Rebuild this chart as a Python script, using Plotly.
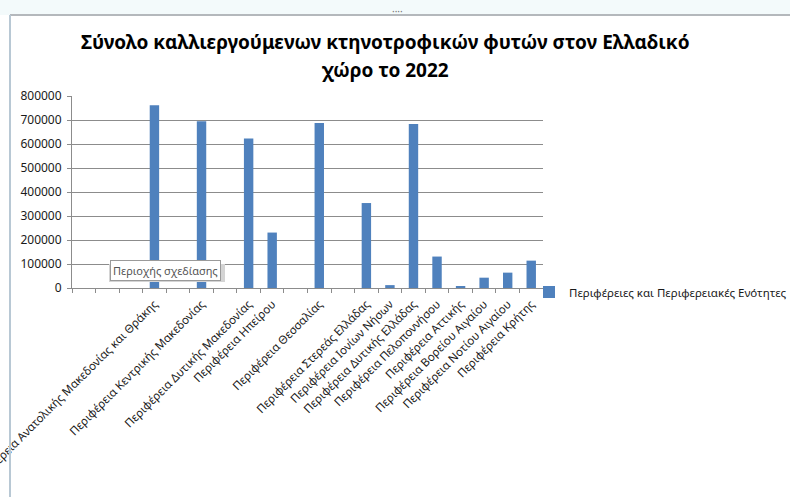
import plotly.graph_objects as go

# Regions of Greece (blank slots keep the spacing of the source table)
categories = [
    "", "", "",
    "Περιφέρεια Ανατολικής Μακεδονίας και Θράκης",
    "",
    "Περιφέρεια Κεντρικής Μακεδονίας",
    "",
    "Περιφέρεια Δυτικής Μακεδονίας",
    "Περιφέρεια Ηπείρου",
    "",
    "Περιφέρεια Θεσσαλίας",
    "",
    "Περιφέρεια Στερεάς Ελλάδας",
    "Περιφέρεια Ιονίων Νήσων",
    "Περιφέρεια Δυτικής Ελλάδας",
    "Περιφέρεια Πελοποννήσου",
    "Περιφέρεια Αττικής",
    "Περιφέρεια Βορείου Αιγαίου",
    "Περιφέρεια Νοτίου Αιγαίου",
    "Περιφέρεια Κρήτης",
]

# Cultivated fodder plants, 2022
values = [
    None, None, None,
    761000,
    None,
    695000,
    None,
    623000,
    231000,
    None,
    687000,
    None,
    354000,
    12000,
    683000,
    131000,
    8000,
    43000,
    64000,
    114000,
]

series_name = "Περιφέρειες και Περιφερειακές Ενότητες"
title_lines = ["Σύνολο καλλιεργούμενων κτηνοτροφικών φυτών στον Ελλαδικό",
               "χώρο το 2022"]
y_ticks = [0, 100000, 200000, 300000, 400000, 500000, 600000, 700000, 800000]

positions = list(range(len(categories)))

# Plot area in pixels
W, H = 790, 497
L, R, T, B = 72, 543, 96, 288


def px(x):
    return (x - L) / (R - L)


def py(y):
    return (B - y) / (B - T)


fig = go.Figure()
fig.add_trace(go.Bar(
    x=positions,
    y=values,
    name=series_name,
    marker=dict(color="#4F81BD", line=dict(width=0)),
    showlegend=True,
))

font_family = "Noto Sans, Open Sans, sans-serif"

title_annotations = [
    dict(
        text="<b>" + line + "</b>",
        xref="paper", yref="paper",
        x=px(385), y=py(ypix),
        xanchor="center", yanchor="middle",
        showarrow=False,
        font=dict(size=19, color="#000000", family=font_family),
    )
    for line, ypix in zip(title_lines, [42, 70])
]

fig.update_layout(
    width=W,
    height=H,
    margin=dict(l=L, r=W - R, t=T, b=H - B, pad=0, autoexpand=False),
    paper_bgcolor="white",
    plot_bgcolor="white",
    bargap=0.6,
    font=dict(family=font_family, color="#222222"),
    xaxis=dict(
        range=[-0.5, len(categories) - 0.5],
        tickmode="array",
        tickvals=positions,
        ticktext=categories,
        tickangle=-45,
        ticks="",
        automargin=False,
        ticklabeloverflow="allow",
        ticklabelstandoff=4,
        tickfont=dict(size=11.5, color="#1a1a1a"),
        showline=True,
        linecolor="#8c8c8c",
        linewidth=1,
        showgrid=False,
        zeroline=False,
        minor=dict(tick0=-0.5, dtick=1, ticks="outside", ticklen=4,
                   tickcolor="#8c8c8c", showgrid=False),
    ),
    yaxis=dict(
        range=[0, 800000],
        tickmode="array",
        tickvals=y_ticks,
        ticktext=[str(v) for v in y_ticks],
        ticks="outside",
        ticklen=4,
        tickcolor="#8c8c8c",
        automargin=False,
        ticklabelstandoff=3,
        tickfont=dict(size=12, color="#1a1a1a"),
        showline=True,
        linecolor="#8c8c8c",
        linewidth=1,
        showgrid=True,
        gridcolor="#8c8c8c",
        gridwidth=1,
        zeroline=False,
    ),
    legend=dict(
        x=px(529),
        y=py(292),
        xanchor="left",
        yanchor="middle",
        font=dict(size=11.5, color="#1a1a1a"),
        bgcolor="rgba(0,0,0,0)",
        itemwidth=30,
    ),
    annotations=title_annotations + [
        dict(
            text="Περιοχής σχεδίασης",
            xref="paper", yref="paper",
            x=px(165), y=py(270),
            xanchor="center", yanchor="middle",
            showarrow=False,
            font=dict(size=11, color="#555555", family=font_family),
            bgcolor="white",
            bordercolor="#9a9a9a",
            borderwidth=1,
            borderpad=2,
        ),
        dict(
            text="····",
            xref="paper", yref="paper",
            x=px(397), y=py(11),
            xanchor="center", yanchor="middle",
            showarrow=False,
            font=dict(size=10, color="#777777"),
        ),
    ],
    shapes=[
        # chart frame
        dict(type="rect", xref="paper", yref="paper",
             x0=px(0), x1=px(W), y0=py(0), y1=py(15),
             fillcolor="#f3fafb", line=dict(width=0), layer="below"),
        dict(type="line", xref="paper", yref="paper",
             x0=px(10), x1=px(W), y0=py(15), y1=py(15),
             line=dict(color="#b4b8bc", width=2)),
        dict(type="line", xref="paper", yref="paper",
             x0=px(10), x1=px(10), y0=py(15), y1=py(H),
             line=dict(color="#b8c8d4", width=2)),
        # tooltip shadow
        dict(type="rect", xref="paper", yref="paper",
             x0=px(109), x1=px(225), y0=py(264), y1=py(282),
             fillcolor="#d4d4d4", line=dict(width=0), layer="above"),
    ],
)

fig.write_html("out.html")
